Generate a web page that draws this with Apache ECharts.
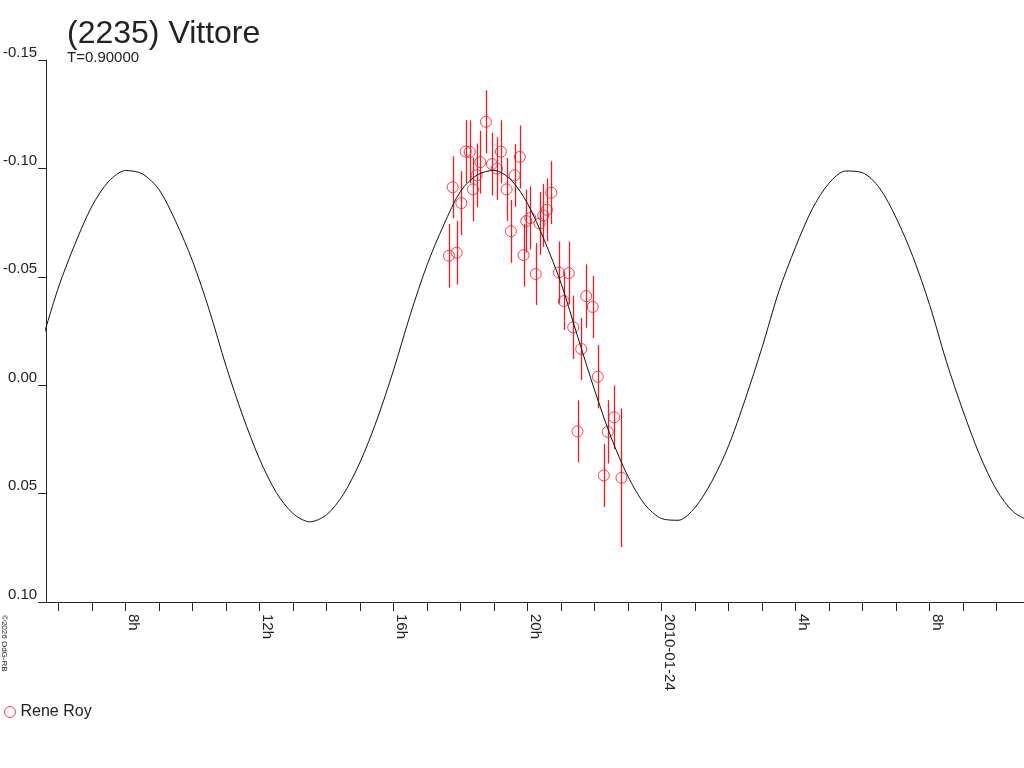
<!DOCTYPE html>
<html>
<head>
<meta charset="utf-8">
<title>(2235) Vittore</title>
<script src="https://cdn.jsdelivr.net/npm/echarts@6/dist/echarts.min.js"></script>
<style>
  html, body {margin: 0; padding: 0; background: #fff;}
  #chart {width: 1024px; height: 768px;}
</style>
</head>
<body>
<div id="chart"></div>
<script>
// hours counted from 2010-01-23 0h
const obsHours = [
  17.654, 17.884, 17.765, 18.024, 18.152, 18.272, 18.370, 18.480, 18.590, 18.757,
  18.936, 19.085, 19.204, 19.374, 19.503, 19.613, 19.771, 19.881, 19.962, 20.081,
  20.245, 20.358, 20.469, 20.576, 20.707, 20.934, 21.232, 21.083, 21.751, 21.947,
  21.363, 21.602, 22.097, 21.491, 22.586, 22.395, 22.275, 22.803
];
const obsMag = [
  -0.0597, -0.0611, -0.0913, -0.0840, -0.1078, -0.1076, -0.0903, -0.0968, -0.1029, -0.1215,
  -0.1020, -0.0999, -0.1077, -0.0903, -0.0710, -0.0968, -0.1053, -0.0600, -0.0757, -0.0771,
  -0.0513, -0.0746, -0.0783, -0.0809, -0.0888, -0.0520, -0.0517, -0.0388, -0.0411, -0.0361,
  -0.0267, -0.0167, -0.0039, 0.0213, 0.0148, 0.0215, 0.0416, 0.0427
];
const obsErr = [
  0.0147, 0.0147, 0.0143, 0.0147, 0.0145, 0.0145, 0.0147, 0.0147, 0.0145, 0.0145,
  0.0145, 0.0145, 0.0145, 0.0145, 0.0145, 0.0145, 0.0145, 0.0145, 0.0145, 0.0145,
  0.0143, 0.0145, 0.0145, 0.0145, 0.0145, 0.0143, 0.0145, 0.0133, 0.0146, 0.0143,
  0.0146, 0.0143, 0.0146, 0.0143, 0.0146, 0.0146, 0.0146, 0.0320
];

const fitHours = [
  5.5, 6.0, 6.5, 7.0, 7.5, 8.0, 8.5, 9.0, 9.5, 10.0,
  10.5, 11.0, 11.5, 12.0, 12.5, 13.0, 13.5, 14.0, 14.5, 15.0,
  15.5, 16.0, 16.5, 17.0, 17.5, 18.0, 18.5, 19.0, 19.5, 20.0,
  20.5, 21.0, 21.5, 22.0, 22.5, 23.0, 23.5, 24.0, 24.5, 25.0,
  25.5, 26.0, 26.5, 27.0, 27.5, 28.0, 28.5, 29.0, 29.5, 30.0,
  30.5, 31.0, 31.5, 32.0, 32.5, 33.0, 33.5, 34.0, 34.5, 35.0
];
const fitMag = [
  -0.0201, -0.0453, -0.0655, -0.0827, -0.0941, -0.0990, -0.0975, -0.0902, -0.0754, -0.0572,
  -0.0346, -0.0088, 0.0142, 0.0341, 0.0495, 0.0592, 0.0630, 0.0598, 0.0504, 0.0355,
  0.0161, -0.0070, -0.0326, -0.0555, -0.0740, -0.0895, -0.0970, -0.0991, -0.0948, -0.0838,
  -0.0669, -0.0470, -0.0222, 0.0022, 0.0243, 0.0421, 0.0550, 0.0615, 0.0623, 0.0564,
  0.0444, 0.0280, 0.0064, -0.0174, -0.0432, -0.0637, -0.0813, -0.0932, -0.0988, -0.0980,
  -0.0911, -0.0773, -0.0594, -0.0372, -0.0111, 0.0119, 0.0323, 0.0483, 0.0584, 0.0628
];

const xTickHours = [6, 7, 8, 9, 10, 11, 12, 13, 14, 15, 16, 17, 18, 19, 20, 21, 22, 23,
  24, 25, 26, 27, 28, 29, 30, 31, 32, 33, 34];
const xLabelHours = [8, 12, 16, 20, 24, 28, 32];
const xLabelTexts = ['8h', '12h', '16h', '20h', '2010-01-24', '4h', '8h'];
const yTicks = [-0.15, -0.10, -0.05, 0.00, 0.05, 0.10];

const FONT = '"Liberation Sans", Arial, sans-serif';
const RED = '#ee1c25';
const INK = '#222';

const chart = echarts.init(document.getElementById('chart'), null, {renderer: 'canvas'});

const obsPoints = obsHours.map((h, i) => [h, obsMag[i]]);
const errPoints = obsHours.map((h, i) => [h, obsMag[i], obsErr[i]]);
const fitPoints = fitHours.map((h, i) => [h, fitMag[i]]);

chart.setOption({
  animation: false,
  backgroundColor: '#fff',
  textStyle: {fontFamily: FONT},
  title: {
    text: '(2235) Vittore',
    subtext: 'T=0.90000',
    left: 62,
    top: 13,
    itemGap: 0,
    textStyle: {fontSize: 32, fontWeight: 'normal', color: INK, fontFamily: FONT},
    subtextStyle: {fontSize: 15, color: INK, fontFamily: FONT}
  },
  legend: {
    left: 4,
    top: 704,
    padding: 0,
    itemWidth: 11,
    itemHeight: 11,
    itemGap: 10,
    textStyle: {fontSize: 16, color: INK, fontFamily: FONT},
    data: [{
      name: 'Rene Roy',
      icon: 'circle',
      itemStyle: {color: '#fff', borderColor: RED, borderWidth: 1}
    }]
  },
  graphic: [{
    type: 'text',
    x: 0,
    y: 615,
    rotation: -Math.PI / 2,
    style: {
      text: '©2026 OdG-RB',
      fontSize: 8,
      fontFamily: FONT,
      fill: INK,
      align: 'left',
      verticalAlign: 'bottom'
    }
  }],
  grid: {left: 45, right: 0, top: 60, bottom: 166, containLabel: false},
  xAxis: {
    type: 'value',
    min: 5.63,
    max: 34.82,
    splitLine: {show: false},
    axisLine: {onZero: false, lineStyle: {color: INK, width: 1}},
    axisTick: {show: true, length: 9, customValues: xTickHours, lineStyle: {color: INK}},
    axisLabel: {
      customValues: xLabelHours,
      rotate: -90,
      margin: 12,
      verticalAlign: 'bottom',
      fontSize: 15,
      color: INK,
      fontFamily: FONT,
      formatter: v => xLabelTexts[xLabelHours.indexOf(Math.round(v))]
    }
  },
  yAxis: {
    type: 'value',
    inverse: true,
    min: -0.15,
    max: 0.10,
    interval: 0.05,
    splitLine: {show: false},
    axisLine: {show: true, onZero: false, lineStyle: {color: INK, width: 1}},
    axisTick: {show: true, length: 8, customValues: yTicks, lineStyle: {color: INK}},
    axisLabel: {
      customValues: yTicks,
      margin: 9,
      verticalAlign: 'bottom',
      fontSize: 15,
      color: INK,
      fontFamily: FONT,
      formatter: v => (Math.abs(v) < 1e-9 ? 0 : v).toFixed(2)
    }
  },
  series: [
    {
      name: 'errors',
      type: 'custom',
      z: 2,
      silent: true,
      data: errPoints,
      renderItem: (params, api) => {
        const x = api.value(0), y = api.value(1), e = api.value(2);
        const p1 = api.coord([x, y - e]);
        const p2 = api.coord([x, y + e]);
        const px = Math.round(p1[0]) + 0.5;
        return {
          type: 'line',
          shape: {x1: px, y1: p1[1], x2: px, y2: p2[1]},
          style: {stroke: RED, lineWidth: 1.3}
        };
      }
    },
    {
      name: 'Rene Roy',
      type: 'scatter',
      z: 3,
      symbol: 'circle',
      symbolSize: 11,
      itemStyle: {color: 'rgba(255,255,255,0)', borderColor: RED, borderWidth: 1},
      data: obsPoints
    },
    {
      name: 'fit',
      type: 'line',
      z: 4,
      smooth: 0.3,
      showSymbol: false,
      silent: true,
      lineStyle: {color: '#111', width: 1},
      data: fitPoints
    }
  ]
});
window.addEventListener('resize', () => chart.resize());
</script>
</body>
</html>
